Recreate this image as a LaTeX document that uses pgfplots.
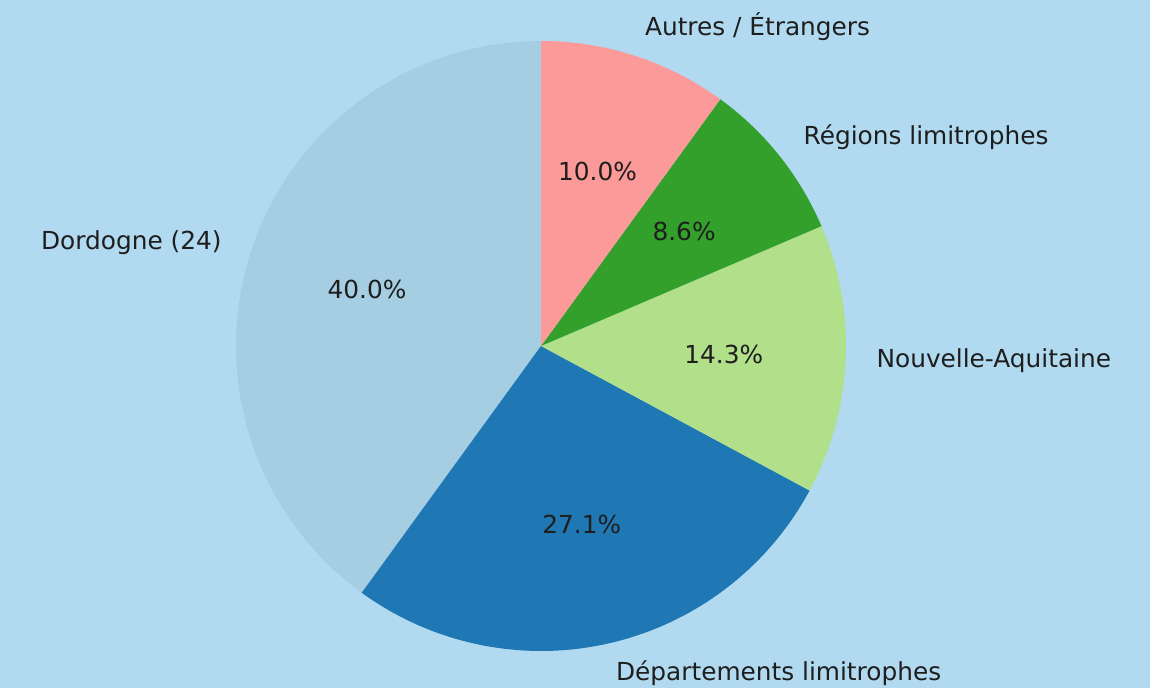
\documentclass[border=0pt]{standalone}
\usepackage{pgfplots}
\usepackage{pgfplotstable}
\usepackage{fontspec}
\setmainfont{DejaVu Sans}
\pgfplotsset{compat=1.18}

\definecolor{bgcol}{RGB}{177,218,241}
\definecolor{c1}{HTML}{A6CEE3}
\definecolor{c2}{HTML}{1F78B4}
\definecolor{c3}{HTML}{B2DF8A}
\definecolor{c4}{HTML}{33A02C}
\definecolor{c5}{HTML}{FB9A99}
\definecolor{txt}{RGB}{30,30,30}

% counts per origin (70 respondents)
\pgfplotstableread[col sep=comma]{
label,count,color
Dordogne (24),28,c1
Départements limitrophes,19,c2
Nouvelle-Aquitaine,10,c3
Régions limitrophes,6,c4
Autres / Étrangers,7,c5
}\piedata

\begin{document}
\begin{tikzpicture}[font=\fontsize{12.4}{14}\selectfont]
\path[use as bounding box] (0,0) rectangle (575pt,344pt);
\fill[bgcol] (0,0) rectangle (575pt,344pt);
\clip (0,0) rectangle (555pt,344pt);
\begin{axis}[
  at={(0pt,0pt)}, anchor=south west,
  scale only axis, width=575pt, height=344pt,
  xmin=0, xmax=1150, ymin=0, ymax=688,
  axis lines=none, clip=false,
]
\pgfmathsetmacro\total{70}
\def\start{90}
\pgfplotsforeachungrouped \i in {0,...,4}{%
  \pgfplotstablegetelem{\i}{count}\of\piedata \let\val\pgfplotsretval
  \pgfplotstablegetelem{\i}{color}\of\piedata \let\col\pgfplotsretval
  \pgfplotstablegetelem{\i}{label}\of\piedata \let\lab\pgfplotsretval
  \pgfmathsetmacro\sweep{360*\val/\total}%
  \pgfmathsetmacro\mid{\start+\sweep/2}%
  \pgfmathsetmacro\pct{100*\val/\total}%
  \pgfmathprintnumberto[fixed,fixed zerofill,precision=1,assume math mode=true]{\pct}{\pctstr}%
  \pgfmathsetmacro\lx{541+335.5*cos(\mid)}%
  \pgfmathsetmacro\ly{342+335.5*sin(\mid)}%
  \pgfmathsetmacro\px{541+183*cos(\mid)}%
  \pgfmathsetmacro\py{342+183*sin(\mid)}%
  \pgfmathparse{cos(\mid)<0 ? "east" : "west"}\let\anch\pgfmathresult
  \edef\temp{%
    \noexpand\fill[\col] (axis cs:541,342) -- ++(\start:152.5pt)
      arc[start angle=\start, delta angle=\sweep, radius=152.5pt] -- cycle;
    \noexpand\node[txt, anchor=\anch, inner sep=0pt] at (axis cs:\lx,\ly) {\unexpanded\expandafter{\lab}};
    \noexpand\node[txt] at (axis cs:\px,\py) {\unexpanded\expandafter{\pctstr}\noexpand\%};
  }%
  \temp
  \pgfmathsetmacro\start{\start+\sweep}%
}
\end{axis}
\end{tikzpicture}
\end{document}
